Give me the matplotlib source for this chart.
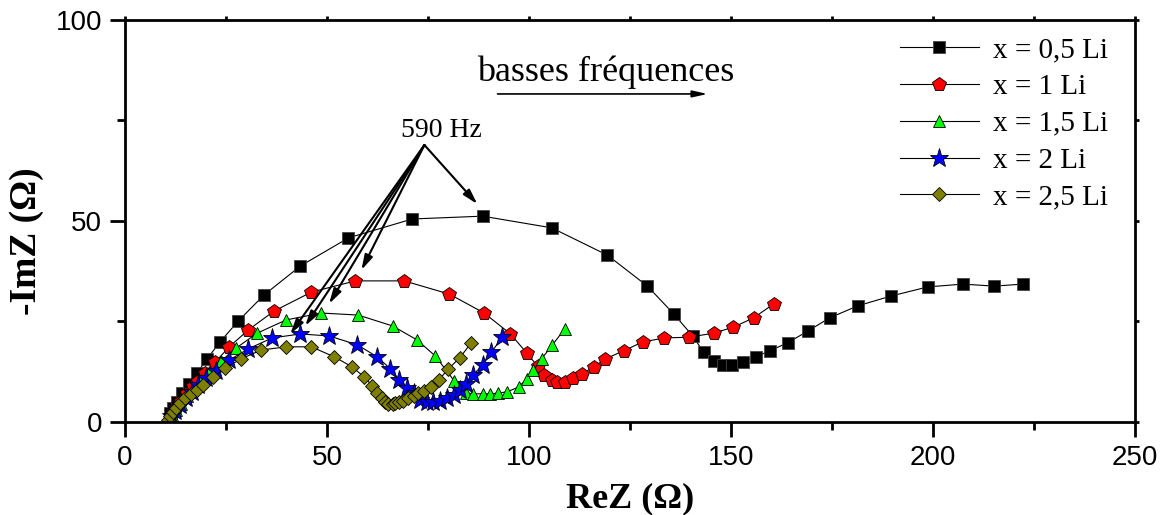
import matplotlib
matplotlib.use('Agg')
import matplotlib.pyplot as plt
from matplotlib.ticker import MultipleLocator

# x = 0,5 Li
bx = [11.1, 11.9, 12.9, 14.1, 15.9, 17.8, 20.3, 23.5, 28.0, 34.4, 43.4, 55.3, 71.1, 88.5, 105.6, 119.4,
      129.3, 135.8, 140.5, 143.2, 145.7, 147.9, 150.2, 152.9, 156.1, 159.6, 164.0, 169.0, 174.4, 181.4,
      189.5, 198.7, 207.4, 215.1, 222.3]
by = [2.2, 3.5, 5.0, 7.2, 9.5, 12.2, 15.7, 19.9, 25.1, 31.6, 38.8, 45.8, 50.5, 51.2, 48.3, 41.5,
      33.8, 26.9, 21.4, 17.4, 15.2, 14.2, 14.2, 14.9, 16.2, 17.7, 19.7, 22.6, 25.9, 28.9,
      31.3, 33.6, 34.3, 33.8, 34.3]

# x = 1 Li
rx = [11.6, 12.6, 13.9, 15.4, 16.8, 18.1, 19.8, 22.3, 25.8, 30.5, 36.9, 46.1, 57.0, 69.1, 80.3, 88.9,
      95.4, 99.4, 102.1, 103.8, 105.6, 107.0, 108.8, 110.8, 113.0, 116.0, 118.9, 123.4, 128.1, 133.5,
      139.7, 145.7, 150.6, 155.6, 160.6]
ry = [2.0, 3.5, 5.2, 7.2, 9.0, 10.2, 12.2, 14.9, 18.7, 22.9, 27.6, 32.3, 35.1, 35.1, 31.8, 27.1,
      21.9, 17.2, 13.9, 11.7, 10.4, 10.0, 10.0, 10.9, 11.9, 13.7, 15.7, 17.7, 19.9, 20.9,
      21.1, 22.1, 23.6, 25.9, 29.4]

# x = 1,5 Li
gx = [11.6, 12.6, 13.9, 15.4, 17.1, 18.8, 20.8, 23.8, 27.5, 32.7, 39.9, 48.6, 57.7, 66.2, 72.3, 76.8,
      81.5, 84.5, 86.2, 88.5, 90.4, 92.4, 94.6, 97.4, 99.4, 101.1, 103.1, 105.8, 108.8]
gy = [1.7, 3.0, 4.5, 6.5, 8.5, 10.4, 12.4, 15.2, 18.4, 22.1, 25.4, 27.1, 26.6, 23.9, 20.4, 16.4,
      10.2, 7.2, 7.0, 7.0, 7.0, 7.2, 7.5, 8.7, 10.7, 12.9, 15.7, 19.2, 23.1]

# x = 2 Li
sx = [11.4, 12.4, 13.6, 15.1, 16.6, 18.1, 20.1, 22.5, 25.8, 30.5, 36.4, 43.4, 50.5, 57.5, 62.4, 65.7,
      67.9, 69.9, 71.4, 73.1, 74.8, 76.3, 78.0, 79.8, 81.3, 83.0, 84.5, 86.2, 88.5, 90.7, 93.4]
sy = [1.5, 2.7, 4.2, 6.0, 7.5, 9.2, 10.9, 12.7, 15.4, 18.2, 20.9, 21.9, 21.4, 19.2, 16.2, 13.2,
      10.4, 8.5, 7.2, 5.5, 5.0, 5.0, 5.2, 6.0, 6.7, 8.0, 9.5, 11.7, 14.2, 17.4, 21.1]

# x = 2,5 Li
ox = [10.7, 11.1, 11.9, 12.6, 13.6, 14.9, 16.3, 17.8, 19.3, 21.8, 24.8, 28.7, 33.7, 39.9, 46.1, 51.8,
      56.2, 59.2, 61.2, 62.4, 63.7, 64.4, 65.2, 66.2, 66.9, 67.9, 68.9, 70.1, 71.4, 72.6, 74.1, 75.8,
      77.6, 80.0, 82.8, 85.7]
oy = [0.5, 1.5, 2.5, 3.5, 4.7, 6.0, 7.0, 8.0, 9.2, 11.2, 13.4, 15.7, 17.9, 18.7, 18.7, 16.2,
      13.7, 11.2, 9.0, 7.2, 6.0, 5.0, 4.5, 4.5, 4.7, 5.0, 5.2, 6.0, 6.5, 7.2, 7.7, 8.7,
      10.4, 13.2, 15.9, 19.7]

labels = ['x = 0,5 Li', 'x = 1 Li', 'x = 1,5 Li', 'x = 2 Li', 'x = 2,5 Li']

# points marked "590 Hz"
hz_origin = (74.1, 68.9)
hz_targets = [(87.2, 54.2), (58.5, 37.8), (50.5, 29.4), (44.6, 23.9), (40.9, 21.9)]

serif = 'Liberation Serif'
sans = 'Liberation Sans'

fig = plt.figure(figsize=(11.69, 5.15), dpi=100)
ax = fig.add_axes([0.107, 0.1806, 0.8639, 0.7806])

ax.plot(bx, by, color='black', lw=0.8, marker='s', ms=8, mfc='black', mec='#444444', mew=0.6, label=labels[0])
ax.plot(rx, ry, color='black', lw=0.8, marker='p', ms=10, mfc='red', mec='black', mew=0.6, label=labels[1])
ax.plot(gx, gy, color='black', lw=0.8, marker='^', ms=9, mfc='#00ff00', mec='black', mew=0.6, label=labels[2])
ax.plot(sx, sy, color='black', lw=0.8, marker='*', ms=14, mfc='blue', mec='black', mew=0.6, label=labels[3])
ax.plot(ox, oy, color='black', lw=0.8, marker='D', ms=7.5, mfc='#7f7f00', mec='black', mew=0.6, label=labels[4])

for t in hz_targets:
    ax.annotate('', xy=t, xytext=hz_origin,
                arrowprops=dict(arrowstyle='-|>,head_length=0.9,head_width=0.25',
                                color='black', lw=1.5, shrinkA=0, shrinkB=0))
ax.text(78.3, 70.9, '590 Hz', family=serif, fontsize=20, ha='center', va='baseline')

ax.text(119.0, 84.8, 'basses fréquences', family=serif, fontsize=26, ha='center', va='baseline')
ax.annotate('', xy=(144.2, 81.6), xytext=(92.2, 81.6),
            arrowprops=dict(arrowstyle='-|>,head_length=0.9,head_width=0.2',
                            color='black', lw=1.2, shrinkA=0, shrinkB=0))

ax.set_xlim(0, 250)
ax.set_ylim(0, 100)
ax.xaxis.set_major_locator(MultipleLocator(50))
ax.xaxis.set_minor_locator(MultipleLocator(25))
ax.yaxis.set_major_locator(MultipleLocator(50))
ax.yaxis.set_minor_locator(MultipleLocator(25))

for s in ax.spines.values():
    s.set_linewidth(2)
ax.tick_params(which='major', direction='out', length=10.5, width=2, labelsize=20, pad=6)
ax.tick_params(which='minor', direction='out', length=5.5, width=2)
ax.tick_params(which='both', top=True, right=True)
for tl in ax.get_xticklabels() + ax.get_yticklabels():
    tl.set_family(sans)
# short ticks on the mirrored sides
for tk in ax.xaxis.get_major_ticks() + ax.xaxis.get_minor_ticks():
    tk.tick2line.set_markersize(3)
for tk in ax.yaxis.get_major_ticks() + ax.yaxis.get_minor_ticks():
    tk.tick2line.set_markersize(3)

ax.set_xlabel('ReZ (Ω)', family=serif, fontweight='bold', fontsize=26)
ax.set_ylabel('-ImZ (Ω)', family=serif, fontweight='bold', fontsize=27)
ax.xaxis.set_label_coords(0.5, -0.15)
ax.yaxis.set_label_coords(-0.08, 0.45)

ax.legend(loc='upper right', bbox_to_anchor=(0.988, 0.995), frameon=False,
          prop={'family': serif, 'size': 21}, handlelength=2.7, handletextpad=0.5,
          labelspacing=0.36, borderaxespad=0.1)

fig.savefig('out.png', dpi=100)
